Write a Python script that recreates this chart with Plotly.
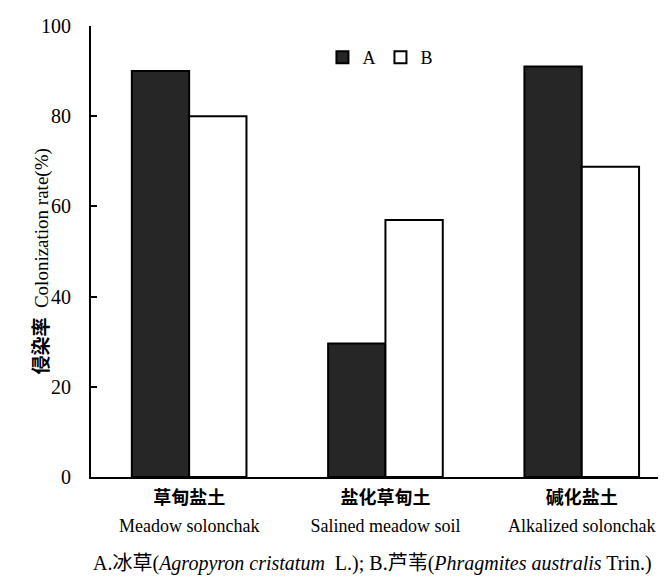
import plotly.graph_objects as go

categories_cn = ["草甸盐土", "盐化草甸土", "碱化盐土"]
categories_en = ["Meadow solonchak", "Salined meadow soil", "Alkalized solonchak"]
series_a = [90, 29.6, 91]
series_b = [80, 57, 68.8]
y_ticks = [0, 20, 40, 60, 80, 100]

serif = "Liberation Serif, Times New Roman, serif"
cjk = "Noto Sans CJK SC"

cat_labels = [f"<span style='font-family:{cjk};font-weight:bold;font-size:18px'>{c}</span><br>"
              f"<span style='font-size:18px'>{e}</span>"
              for c, e in zip(categories_cn, categories_en)]

fig = go.Figure()
fig.add_trace(go.Bar(name="A", x=categories_en, y=series_a,
                     marker=dict(color="#262626", line=dict(color="black", width=2))))
fig.add_trace(go.Bar(name="B", x=categories_en, y=series_b,
                     marker=dict(color="white", line=dict(color="black", width=2))))

fig.update_layout(
    width=666, height=577,
    margin=dict(l=83, r=0, t=18, b=108),
    paper_bgcolor="white", plot_bgcolor="white",
    barmode="group", bargap=0.416, bargroupgap=0,
    font=dict(family=serif, color="black", size=16),
    legend=dict(orientation="h", x=0.397, y=0.93, xanchor="left", yanchor="middle",
                bgcolor="rgba(0,0,0,0)", font=dict(size=18, family=serif),
                itemwidth=30, traceorder="normal"),
    xaxis=dict(type="category", range=[-0.5, 2.47], showline=True, linecolor="black",
               linewidth=2, ticks="", tickvals=categories_en, ticktext=cat_labels,
               tickfont=dict(size=21, family=serif), showgrid=False),
    yaxis=dict(range=[0, 100], tickvals=y_ticks, showline=True, linecolor="black",
               linewidth=2, ticks="inside", ticklen=6, tickwidth=2, tickcolor="black",
               ticklabelstandoff=14,
               tickfont=dict(size=20, family=serif), showgrid=False, zeroline=False),
    annotations=[
        dict(xref="paper", yref="paper", x=-0.088, y=0.477, textangle=-90,
             xanchor="center", yanchor="middle",
             showarrow=False, font=dict(size=19, family=serif),
             text=f"<span style='font-family:{cjk};font-weight:bold'>侵染率</span>  Colonization rate(%)"),
        dict(xref="paper", yref="paper", x=0.0, y=-0.15, xanchor="left", yanchor="top",
             showarrow=False,
             font=dict(size=20, family=serif),
             text=f"A.<span style='font-family:{cjk}'>冰草</span>(<i>Agropyron cristatum</i>  L.); "
                  f"B.<span style='font-family:{cjk}'>芦苇</span>(<i>Phragmites australis</i> Trin.)"),
    ],
)

fig.write_html("out.html")
